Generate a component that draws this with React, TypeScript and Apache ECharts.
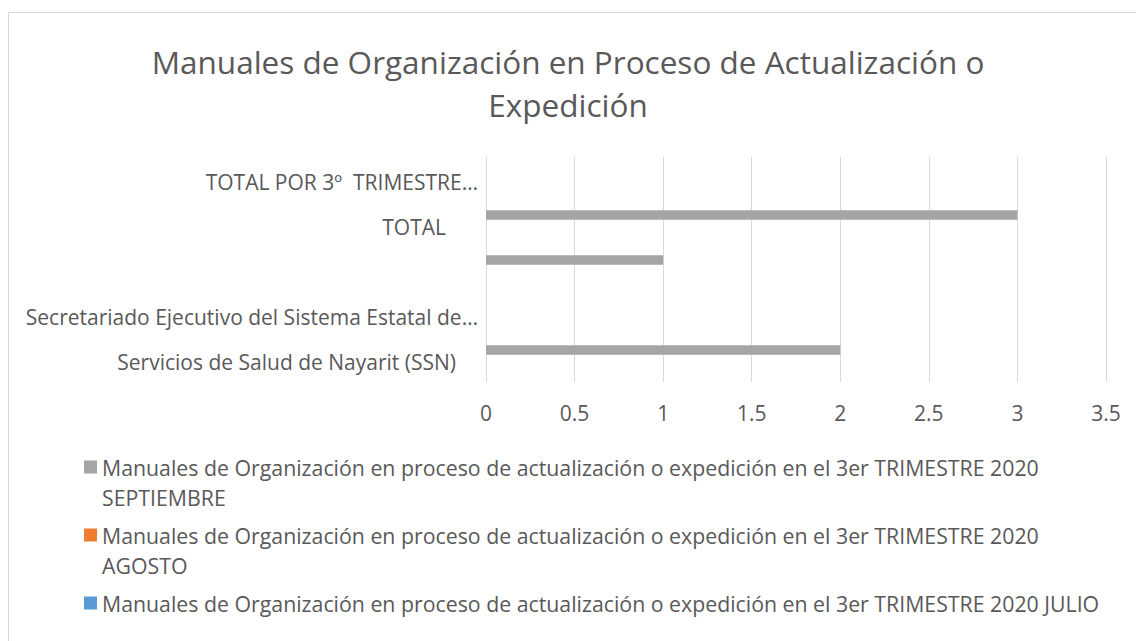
import React, { useEffect, useRef } from "react";
import * as echarts from "echarts";

const categories = [
  "Servicios de Salud de Nayarit (SSN)",
  "Secretariado Ejecutivo del Sistema Estatal de…",
  "",
  "TOTAL",
  "TOTAL POR 3º  TRIMESTRE…",
];

const seriesNames = [
  "Manuales de Organización en proceso de actualización o expedición en el 3er TRIMESTRE 2020 SEPTIEMBRE",
  "Manuales de Organización en proceso de actualización o expedición en el 3er TRIMESTRE 2020 AGOSTO",
  "Manuales de Organización en proceso de actualización o expedición en el 3er TRIMESTRE 2020 JULIO",
];

const septiembre = [2, 0, 1, 3, 0];
const agosto = [0, 0, 0, 0, 0];
const julio = [0, 0, 0, 0, 0];

const xMin = 0;
const xMax = 3.5;
const xInterval = 0.5;

const titleText = "Manuales de Organización en Proceso de Actualización o\nExpedición";

const seriesColors = ["#a5a5a5", "#ed7d31", "#5b9bd5"];
const labelPadRight = [22, 0, 0, 32, 0];

const FONT = "Open Sans";
const TXT = "#595959";
const LABEL_SIZE = 21;
const LEGEND_SIZE = 21.3;

export default function App() {
  const ref = useRef<HTMLDivElement>(null);
  useEffect(() => {
    if (!ref.current) return;
    const chart = echarts.init(ref.current, undefined, { renderer: "svg" });
    const rich: any = {};
    labelPadRight.forEach((p, i) => {
      rich["c" + i] = {
        fontFamily: FONT,
        fontSize: LABEL_SIZE,
        color: TXT,
        padding: [5, p, 0, 0],
      };
    });
    const LH = 30;
    const dataSets = [septiembre, agosto, julio];
    chart.setOption({
      animation: false,
      backgroundColor: "#ffffff",
      textStyle: { fontFamily: FONT },
      title: {
        text: titleText,
        left: "center",
        top: 35,
        textStyle: {
          fontFamily: FONT,
          fontSize: 31.5,
          fontWeight: "normal",
          color: TXT,
          lineHeight: 43,
        },
      },
      graphic: [
        {
          type: "rect",
          shape: { x: 8.5, y: 12.5, width: 1300, height: 800 },
          style: { fill: "none", stroke: "#d9d9d9", lineWidth: 1 },
          silent: true,
          z: -1,
        },
      ],
      grid: { left: 486, right: 30, top: 157, bottom: 259, containLabel: false },
      xAxis: {
        type: "value",
        min: xMin,
        max: xMax,
        interval: xInterval,
        axisLine: { show: false },
        axisTick: { show: false },
        splitLine: { show: true, lineStyle: { color: "#d9d9d9", width: 1 } },
        axisLabel: { fontFamily: FONT, fontSize: LABEL_SIZE, color: TXT, margin: 20 },
      },
      yAxis: {
        type: "category",
        data: categories,
        axisLine: { show: false },
        axisTick: { show: false },
        axisLabel: {
          margin: 8,
          interval: 0,
          formatter: (v: string, i: number) => `{c${i}|${v}}`,
          rich,
        },
      },
      legend: {
        type: "plain",
        orient: "vertical",
        left: 84,
        top: 422,
        height: 600,
        padding: 0,
        itemGap: 68 - 90,
        itemWidth: 13,
        itemHeight: 13,
        icon: "rect",
        data: seriesNames,
        formatter: (name: string) =>
          name === seriesNames[2]
            ? "\n" + name + "\n"
            : "\n" + name.replace("2020 ", "2020\n"),
        textStyle: {
          fontFamily: FONT,
          fontSize: LEGEND_SIZE,
          color: TXT,
          lineHeight: LH,
        },
      },
      series: seriesNames.map((n, i) => ({
        name: n,
        type: "bar",
        data: dataSets[i],
        barWidth: 9.5,
        barGap: "0%",
        itemStyle: { color: seriesColors[i] },
      })),
    });
    return () => chart.dispose();
  }, []);
  return (
    <div
      ref={ref}
      style={{ position: "fixed", left: 0, top: 0, width: 1136, height: 641 }}
    />
  );
}
